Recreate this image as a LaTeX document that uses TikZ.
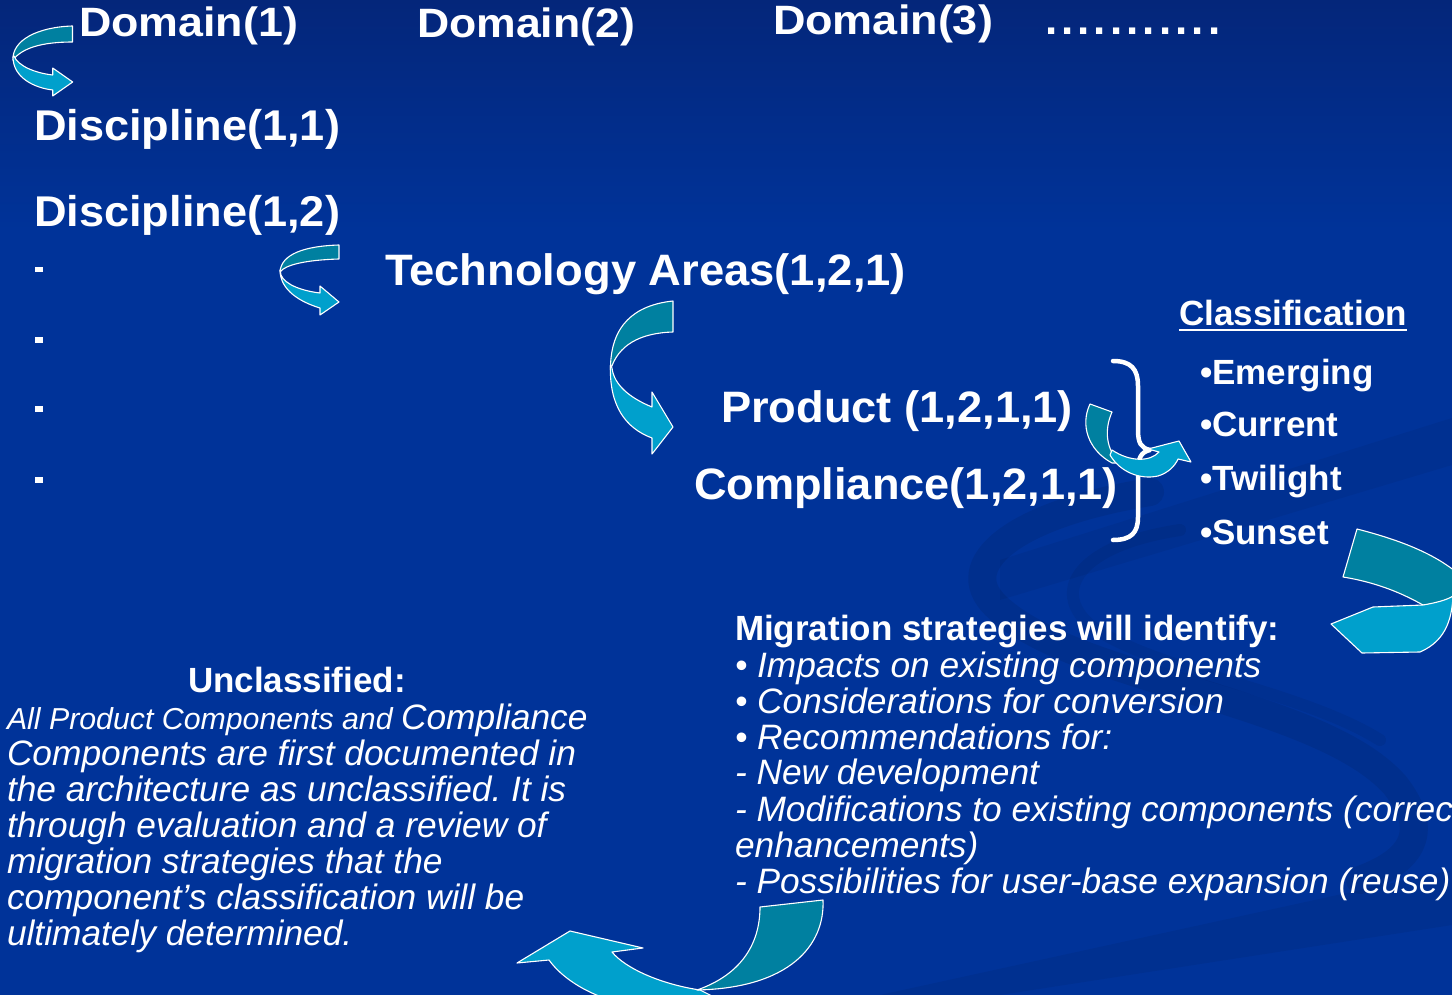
\documentclass[tikz,border=0pt]{standalone}
\usepackage{fontspec}
\usepackage{graphicx}
\setmainfont{Liberation Sans}
\usetikzlibrary{calc}

\definecolor{bgblue}{RGB}{0,51,153}
\definecolor{bgtop}{RGB}{4,38,122}
\definecolor{ribbondark}{RGB}{0,128,160}
\definecolor{ribbonlight}{RGB}{0,160,204}

% stretch a text horizontally to a given width, keeping its height
\newcommand\fitw[2]{\resizebox{#1pt}{\height}{#2}}
\newcommand\fsz[1]{\fontsize{#1}{#1}\selectfont}

\tikzset{
  txt/.style={anchor=base west, inner sep=0pt, outer sep=0pt, text=white},
  head/.style={txt, font=\fsz{41}\bfseries},
  big/.style={txt, font=\fsz{44}\bfseries},
  sub/.style={txt, font=\fsz{35}\bfseries},
  body/.style={txt, font=\fsz{35.3}\itshape},
  ribback/.style={fill=ribbondark, draw=white, line width=1.1pt, line join=round},
  ribfront/.style={fill=ribbonlight, draw=white, line width=1.1pt, line join=round},
  swirl/.style={draw=black, opacity=0.08, line cap=round}
}

\frenchspacing
\begin{document}
\begin{tikzpicture}[x=1pt, y=-1pt]
\useasboundingbox (0,0) rectangle (1452,995);
\clip (0,0) rectangle (1452,995);

% background
\fill[bgblue] (0,0) rectangle (1452,995);
\shade[top color=bgtop, bottom color=bgblue] (0,0) rectangle (1452,230);

% faint swirls of the backdrop
\draw[swirl, line width=28pt] (1150,492) .. controls (1010,515) and (955,565) .. (995,605)
  .. controls (1070,680) and (1320,700) .. (1395,785) .. controls (1430,830) and (1415,860) .. (1360,880);
\draw[swirl, line width=12pt, opacity=0.06] (1180,530) .. controls (1080,545) and (1050,590) .. (1090,625)
  .. controls (1150,670) and (1300,690) .. (1380,740);
\fill[black, opacity=0.05] (1000,560) -- (1452,418) -- (1452,465) -- (1000,600) -- cycle;
\fill[black, opacity=0.06] (880,995) -- (1452,870) -- (1452,925) -- (1000,995) -- cycle;

% headings
\node[head] (dom1) at (79,37) {\fitw{219}{Domain(1)}};
\node[head] (dom2) at (417,38) {\fitw{218}{Domain(2)}};
\node[head] (dom3) at (773,35) {\fitw{220}{Domain(3)}};
\node[head, font=\fsz{44}\bfseries] (more) at (1045,35) {\foreach \k in {1,...,11}{\makebox[16.3pt][l]{.}}};

\node[txt, font=\fsz{43}\bfseries] (dis11) at (34,141) {\fitw{306}{Discipline(1,1)}};
\node[txt, font=\fsz{43}\bfseries] (dis12) at (34,227) {\fitw{306}{Discipline(1,2)}};

% list markers
\foreach \yy in {267,337,406,477}
  \fill[white] (35,\yy) rectangle (42.5,\yy+5.5);

\node[big] (tech) at (385,286) {\fitw{521}{Technology Areas(1,2,1)}};
\node[big] (prod) at (721,422) {\fitw{352}{Product (1,2,1,1)}};
\node[big] (comp) at (694,499) {\fitw{424}{Compliance(1,2,1,1)}};

% classification list
\node[sub] (cls) at (1179,325) {\fitw{228}{Classification}};
\draw[white, line width=2.6pt] ([yshift=-5pt]cls.base west) -- ([yshift=-5pt]cls.base east);
\node[sub] (emg) at (1200,384) {•Emerging};
\node[sub] (cur) at (1200,436) {•Current};
\node[sub] (twi) at (1200,490) {•Twilight};
\node[sub] (sun) at (1200,544) {•Sunset};

% brace grouping product and compliance
\draw[white, line width=4.5pt, line cap=round, line join=round]
  (1113,361) .. controls (1131,361) and (1138,369) .. (1138,386) -- (1138,430)
  .. controls (1138,443) and (1141,448) .. (1150,450)
  .. controls (1141,452) and (1138,458) .. (1138,471) -- (1138,517)
  .. controls (1138,533) and (1131,540) .. (1113,540);

% migration strategies
\node[sub] (mig) at (735,640) {Migration strategies will identify:};
\node[body] (m1) at (735,677) {• Impacts on existing components};
\node[body] (m2) at (735,713) {• Considerations for conversion};
\node[body] (m3) at (735,749) {• Recommendations for:};
\node[body] (m4) at (735,784) {- New development};
\node[body] (m5) at (735,821) {- Modifications to existing components (correc};
\node[body] (m6) at (735,857) {enhancements)};
\node[body] (m7) at (735,893) {- Possibilities for user-base expansion (reuse)};

% unclassified note
\node[sub] (uncl) at (188,692) {Unclassified:};
\node[body] (u1) at (7,729) {{\fsz{30.3}All Product Components and }Compliance};
\node[body] (u2) at (7,765) {Components are first documented in};
\node[body] (u3) at (7,801) {the architecture as unclassified. It is};
\node[body] (u4) at (7,837) {through evaluation and a review of};
\node[body] (u5) at (7,873) {migration strategies that the};
\node[body] (u6) at (7,909) {component’s classification will be};
\node[body] (u7) at (7,945) {ultimately determined.};

% ribbon arrow: domain -> discipline
\draw[ribback] (72.5,26) .. controls (38,27) and (12,40) .. (13,60)
  .. controls (22,48) and (42,42) .. (72.5,42) -- cycle;
\draw[ribfront] (13,57) .. controls (13,78) and (35,88) .. (52.7,90) -- (52.7,96) -- (72.7,82)
  -- (52.7,68) -- (52.7,75) .. controls (35,73) and (18,66) .. (14,56) -- cycle;

% ribbon arrow: discipline -> technology area
\draw[ribback] (339,245) .. controls (305,246) and (281,254) .. (280,272)
  .. controls (285,265) and (305,260) .. (339,259) -- cycle;
\draw[ribfront] (280,270) .. controls (280,290) and (300,302) .. (320,308) -- (320,315) -- (339,302)
  -- (320,286) -- (320,293) .. controls (303,291) and (285,285) .. (281,275) -- cycle;

% ribbon arrow: technology area -> product
\draw[ribback] (673,301) .. controls (635,305) and (610,325) .. (610.5,370)
  .. controls (618,345) and (640,333) .. (673,332) -- cycle;
\draw[ribfront] (610.5,365) .. controls (609,405) and (625,428) .. (652,438) -- (652,454) -- (673,427)
  -- (652,392) -- (652,407) .. controls (630,398) and (614,385) .. (612,368) -- cycle;

% ribbon arrow: product/compliance -> classification
\draw[ribback] (1090,404) -- (1112,412) .. controls (1104,430) and (1106,450) .. (1120,463)
  -- (1112,463) .. controls (1088,450) and (1080,425) .. (1090,404) -- cycle;
\draw[ribfront] (1110,455) .. controls (1120,472) and (1140,480) .. (1158,476)
  .. controls (1168,473) and (1175,466) .. (1178,459) -- (1191,462) -- (1179,441) -- (1148,449)
  -- (1159,452) .. controls (1150,462) and (1130,462) .. (1112,450) -- cycle;

% ribbon arrow: classification -> migration strategies
\draw[ribback] (1357,529) .. controls (1400,540) and (1440,555) .. (1465,580) -- (1465,600)
  .. controls (1450,605) and (1435,606) .. (1423,605)
  .. controls (1405,595) and (1380,583) .. (1343,577) -- cycle;
\draw[ribfront] (1373,607) -- (1423,605) .. controls (1435,603) and (1447,600) .. (1453,596)
  .. controls (1452,615) and (1448,640) .. (1420,652) -- (1362,653) -- (1331,624) -- cycle;

% ribbon arrow: migration strategies -> unclassified
\draw[ribfront] (700,990) .. controls (660,984) and (625,968) .. (612,952) -- (643,948) -- (570,931)
  -- (517,963) -- (549,960) .. controls (562,978) and (585,992) .. (610,1000) -- (720,1000) -- cycle;
\draw[ribback] (760,907) -- (823,900) .. controls (825,945) and (790,988) .. (697,990)
  .. controls (740,975) and (760,945) .. (760,907) -- cycle;
\end{tikzpicture}
\end{document}
